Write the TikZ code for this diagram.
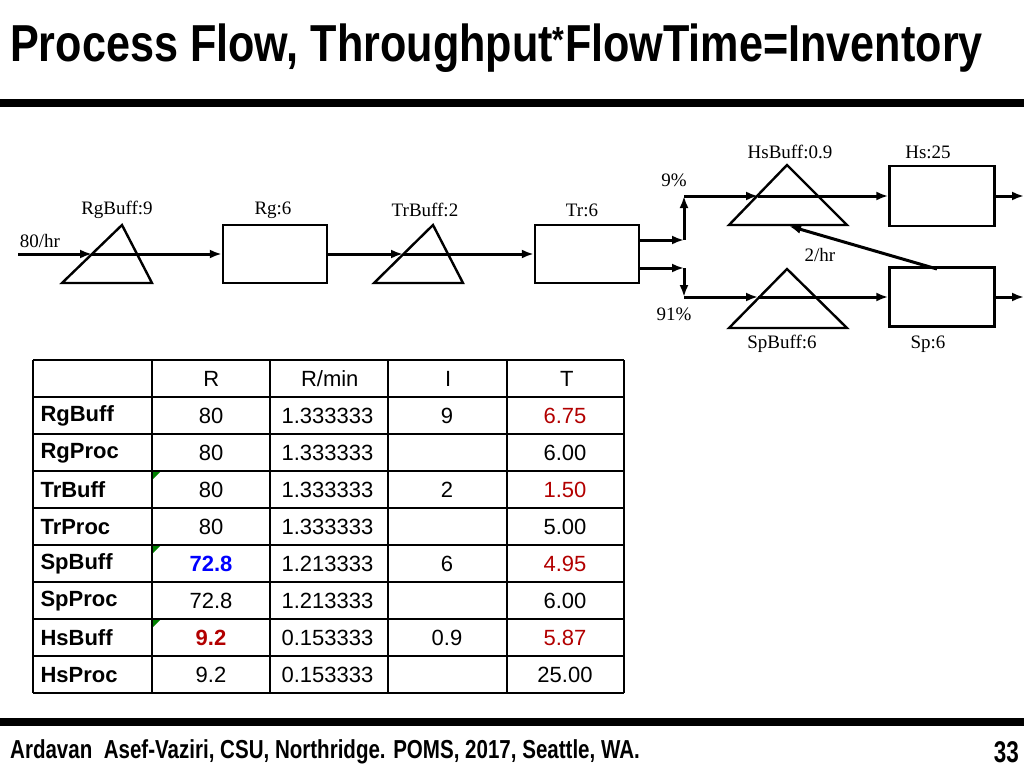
\documentclass[tikz,border=0pt]{standalone}
\usepackage{fontspec}
\usetikzlibrary{arrows.meta}
\setmainfont{Liberation Serif}
\newfontfamily\arial{Liberation Sans}
\begin{document}
\begin{tikzpicture}[x=1pt,y=-1pt,>={Latex[length=12pt,width=9pt]},
  lab/.style={font=\fontsize{19}{19}\selectfont},
  tri/.style={draw,line width=2.4pt},
  bx/.style={draw,line width=2.4pt,minimum width=104pt,minimum height=58pt,inner sep=0},
  fl/.style={->,line width=3pt},
  cell/.style={font=\arial\fontsize{22}{22}\selectfont},
  hcell/.style={font=\arial\bfseries\fontsize{22}{22}\selectfont}]
\useasboundingbox (0,0) rectangle (1024,768);
\fill (0,99) rectangle (1024,107);
\fill (0,718) rectangle (1024,726);
\node[anchor=west,inner sep=0] (title) at (10,48) {\scalebox{0.83}[1]{\arial\bfseries\fontsize{52}{52}\selectfont Process Flow, Throughput\textsuperscript{*}FlowTime=Inventory}};
\node[anchor=west,inner sep=0] (foot) at (10,752) {\scalebox{0.79}[1]{\arial\bfseries\fontsize{26}{26}\selectfont Ardavan\ \ Asef-Vaziri, CSU, Northridge. POMS, 2017, Seattle, WA.}};
\node[anchor=east,inner sep=0] (pg) at (1019,752) {\scalebox{0.75}[1]{\arial\bfseries\fontsize{30}{30}\selectfont 33}};
% upper row
\coordinate (in) at (18,254);
\draw[tri] (62,283) -- (122,225) -- (152,283) -- cycle;
\coordinate (rgb) at (92,254);
\node[bx] (rg) at (275,254) {};
\draw[tri] (374,283) -- (433,225) -- (463,283) -- cycle;
\coordinate (trb) at (403,254);
\node[bx] (tr) at (587,254) {};
\draw[fl] (in) -- (rgb);
\draw[fl] (rgb) -- (rg.west);
\draw[fl] (rg.east) -- (trb);
\draw[fl] (trb) -- (tr.west);
\coordinate (ju) at (684,240);
\coordinate (jd) at (684,268);
\coordinate (tu) at (684,196);
\coordinate (td) at (684,297);
\draw[fl] (638,240) -- (ju);
\draw[fl] (638,268) -- (jd);
\draw[fl] (ju) -- (tu);
\draw[fl] (jd) -- (td);
\draw[tri] (729,225) -- (787,165) -- (847,225) -- cycle;
\draw[tri] (729,328) -- (787,269) -- (847,328) -- cycle;
\coordinate (hsb) at (758,196);
\coordinate (spb) at (758,297);
\node[bx,minimum width=105pt,minimum height=60pt] (hs) at (942,196) {};
\node[bx,minimum width=105pt,minimum height=59pt] (sp) at (942,297) {};
\draw[fl] (tu) -- (hsb);
\draw[fl] (td) -- (spb);
\draw[fl] (hsb) -- (hs.west);
\draw[fl] (spb) -- (sp.west);
\coordinate (ho) at (1024,196);
\coordinate (so) at (1024,297);
\draw[fl] (hs.east) -- (ho);
\draw[fl] (sp.east) -- (so);
\coordinate (fb) at (937,269);
\coordinate (fbe) at (789,226);
\draw[fl] (fb) -- (fbe);
\node[lab] (l1) at (40,241) {80/hr};
\node[lab] (l2) at (117,210) {RgBuff:9};
\node[lab] (l3) at (273,210) {Rg:6};
\node[lab] (l4) at (425,210) {TrBuff:2};
\node[lab] (l5) at (582,210) {Tr:6};
\node[lab] (l6) at (790,152) {HsBuff:0.9};
\node[lab] (l7) at (928,152) {Hs:25};
\node[lab] (l8) at (674,180) {9\%};
\node[lab] (l9) at (674,314) {91\%};
\node[lab] (l10) at (820,255) {2/hr};
\node[lab] (l11) at (782,344) {SpBuff:6};
\node[lab] (l12) at (928,344) {Sp:6};
% table
\foreach \x in {33,152,270,388,507,624} \draw[line width=2.4pt] (\x,360) -- (\x,693);
\foreach \y in {360,397,434,471,508,545,582,619,656,693} \draw[line width=2.4pt] (33,\y) -- (624,\y);
\foreach \y in {471,545,619} \fill[green!50!black] (153,\y+1) -- (160,\y+1) -- (153,\y+8) -- cycle;
\foreach \t [count=\i] in {R,R/min,I,T} \node[cell] (h\i) at ({152+118.5*(\i-0.5)},379) {\t};
\foreach \n/\y/\a/\b/\c/\d [count=\k] in {
 RgBuff/416/80/1.333333/9/{\color{red!70!black}6.75},
 RgProc/453/80/1.333333//6.00,
 TrBuff/490/80/1.333333/2/{\color{red!70!black}1.50},
 TrProc/527/80/1.333333//5.00,
 SpBuff/564/{\bfseries\color{blue}72.8}/1.213333/6/{\color{red!70!black}4.95},
 SpProc/601/72.8/1.213333//6.00,
 HsBuff/638/{\bfseries\color{red!70!black}9.2}/0.153333/0.9/{\color{red!70!black}5.87},
 HsProc/675/9.2/0.153333//25.00}{
  \node[hcell,anchor=west] (r\k) at (37,\y) {\n};
  \node[cell] (a\k) at (211,\y) {\a};
  \node[cell,anchor=west] (b\k) at (278,\y) {\b};
  \node[cell] (c\k) at (447,\y) {\c};
  \node[cell] (d\k) at (565,\y) {\d};
}
\end{tikzpicture}
\end{document}
